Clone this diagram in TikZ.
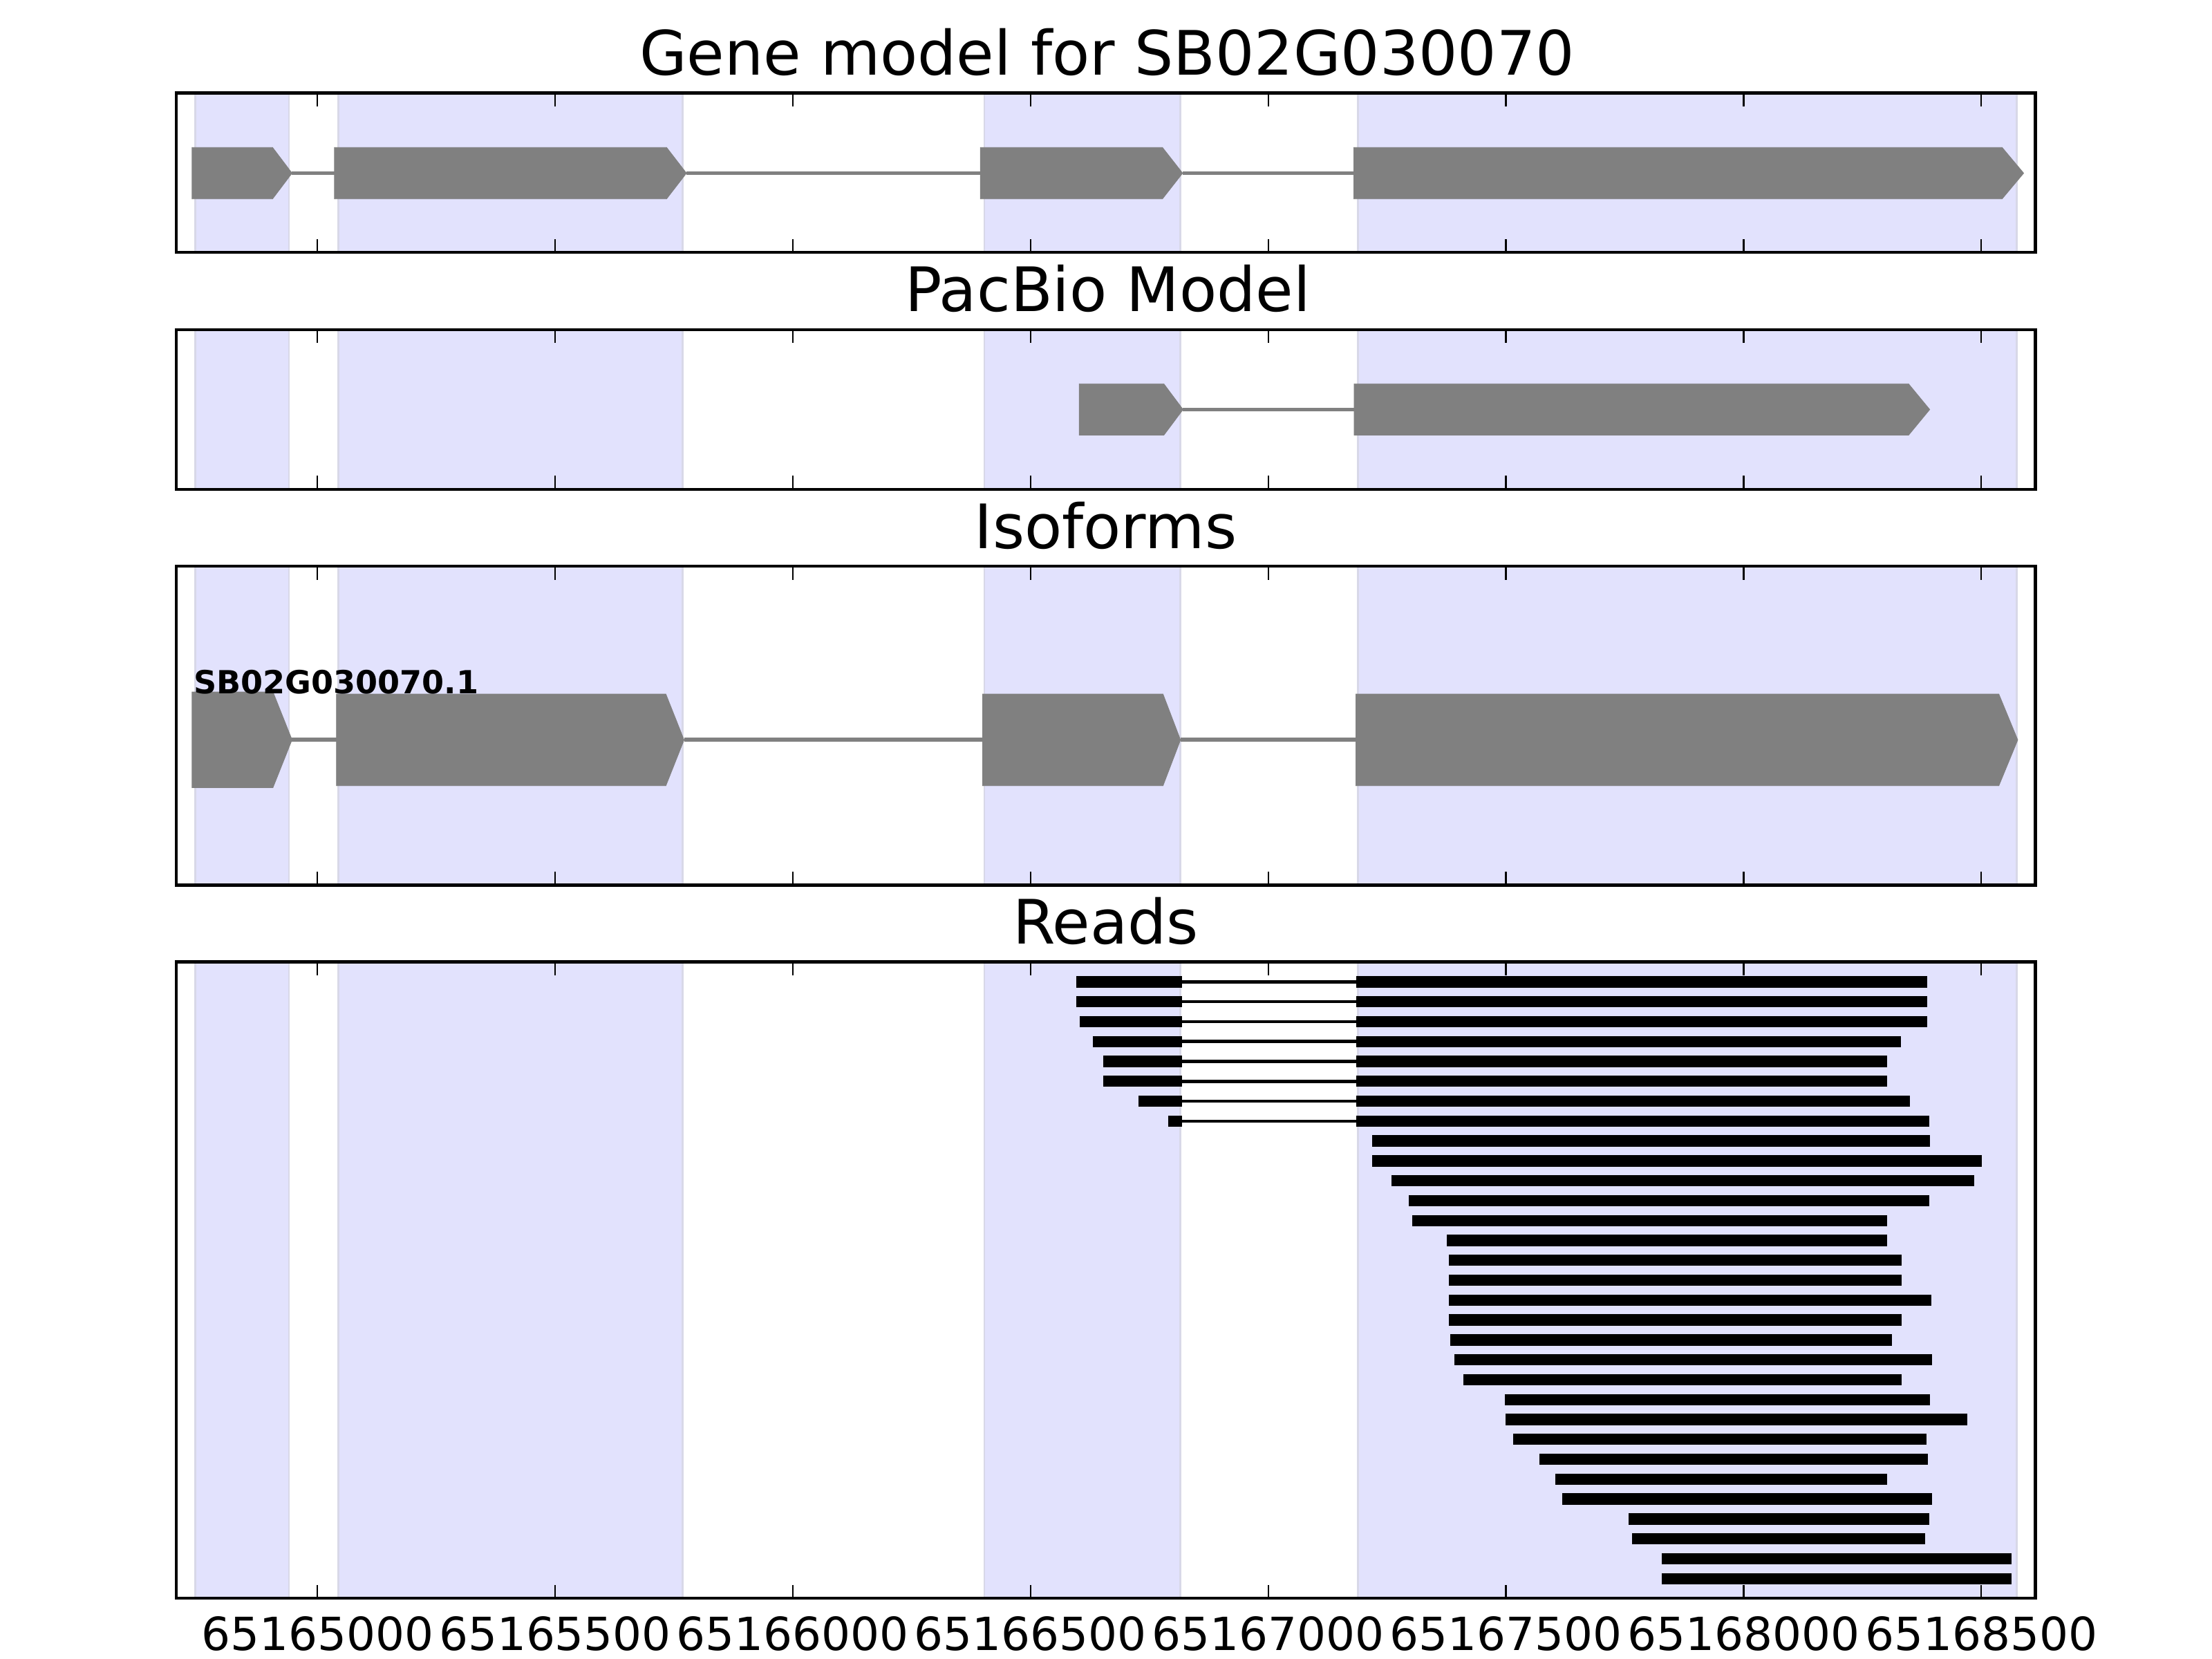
\documentclass[tikz,border=0pt]{standalone}
\usepackage{fontspec}
\setmainfont{DejaVu Sans}
\definecolor{shade}{RGB}{226,226,253}
\definecolor{shadeedge}{RGB}{216,216,232}
\definecolor{exongrey}{RGB}{128,128,128}
\tikzset{
  spanbox/.style={fill=shade, draw=shadeedge, line width=0.012cm},
  axframe/.style={draw=black, line width=0.021cm},
  tickmark/.style={draw=black, line width=0.011cm},
  exonshape/.style={fill=exongrey, draw=exongrey, line width=0.004cm, line join=miter},
  intronline/.style={draw=exongrey, line width=0.026cm},
  readbar/.style={fill=black},
  readintron/.style={draw=black, line width=0.022cm},
  paneltitle/.style={font=\fontsize{12.35}{14}\selectfont, anchor=base, inner sep=0},
  ticklabel/.style={font=\fontsize{9.2}{11}\selectfont, anchor=base, inner sep=0},
  isolabel/.style={font=\bfseries\fontsize{6.42}{7.5}\selectfont, anchor=base west, inner sep=0},
}
% exon arrow: start, box end, tip, top, bottom
\newcommand{\exonpoly}[5]{%
  \path[exonshape] (#1,#4) -- (#2,#4) -- (#3,{(#4+#5)/2}) -- (#2,#5) -- (#1,#5) -- cycle;}
% shaded spans for a panel: top, bottom
\newcommand{\panelback}[2]{%
  \foreach \sa/\sb in {138.4/204.7, 239.9/483.8, 697.8/836.7, 962.5/1429.5}
    {\path[spanbox] (\sa,#1) rectangle (\sb,#2);}}
% ticks and frame for a panel: top, bottom
\newcommand{\panelfront}[2]{%
  \foreach \tx in {225,393.5,562,730.5,899,1067.5,1236,1404.5}
    {\draw[tickmark] (\tx,#1) -- ++(0,9.6);
     \draw[tickmark] (\tx,#2) -- ++(0,-9.6);}
  \draw[axframe] (124.8,#1) rectangle (1442.8,#2);}
\begin{document}
\begin{tikzpicture}[x=0.01cm,y=-0.01cm]
\useasboundingbox (0,0) rectangle (1568,1176);
\fill[white] (0,0) rectangle (1568,1176);

% ---------- Panel 1: gene model ----------
\panelback{65.9}{179.0}
\draw[intronline] (207.0,122.7) -- (237.1,122.7);
\draw[intronline] (486.6,122.7) -- (694.9,122.7);
\draw[intronline] (838.3,122.7) -- (959.7,122.7);
\exonpoly{136.1}{193.2}{207.0}{104.5}{141.0}
\exonpoly{237.1}{472.5}{486.6}{104.5}{141.0}
\exonpoly{694.9}{824.0}{838.3}{104.5}{141.0}
\exonpoly{959.7}{1419.2}{1434.5}{104.5}{141.0}
\panelfront{65.9}{179.0}
\node[paneltitle] (t1) at (784.8,53.1) {Gene model for SB02G030070};

% ---------- Panel 2: PacBio model ----------
\panelback{233.6}{346.8}
\draw[intronline] (838.6,290.3) -- (959.9,290.3);
\exonpoly{765.0}{825.0}{838.6}{272.1}{308.5}
\exonpoly{959.9}{1352.9}{1367.9}{272.1}{308.5}
\panelfront{233.6}{346.8}
\node[paneltitle] (t2) at (785.3,220.8) {PacBio Model};

% ---------- Panel 3: isoforms ----------
\panelback{401.4}{627.4}
\draw[intronline] (207.0,524.3) -- (238.5,524.3);
\draw[intronline] (484.9,524.3) -- (696.6,524.3);
\draw[intronline] (836.8,524.3) -- (961.1,524.3);
\exonpoly{136.1}{193.5}{207.0}{490.5}{558.3}
\exonpoly{238.5}{472.0}{484.9}{492.0}{557.0}
\exonpoly{696.6}{824.4}{836.8}{492.0}{557.0}
\exonpoly{961.1}{1416.9}{1430.3}{492.0}{557.0}
\node[isolabel] (iso1) at (136.5,491.6) {SB02G030070.1};
\panelfront{401.4}{627.4}
\node[paneltitle] (t3) at (783.8,388.6) {Isoforms};

% ---------- Panel 4: reads ----------
\panelback{681.9}{1133.0}
% spliced reads
\foreach \i/\s/\e in {1/762.7/1366.0, 2/762.7/1366.0, 3/765.2/1366.0, 4/774.9/1347.4,
                      5/782.1/1337.6, 6/782.1/1337.6, 7/806.8/1353.7, 8/828.0/1367.4}
{
  \pgfmathsetmacro{\ry}{696.0+(\i-1)*14.1}
  \draw[readintron] (838.0,\ry) -- (961.2,\ry);
  \fill[readbar] (\s,\ry-4.0) rectangle (838.0,\ry+4.0);
  \fill[readbar] (961.2,\ry-4.0) rectangle (\e,\ry+4.0);
}
% unspliced reads
\foreach \i/\s/\e in {9/972.5/1367.9, 10/972.8/1404.7, 11/986.2/1399.3, 12/998.7/1367.4,
                      13/1001.1/1337.5, 14/1025.5/1337.5, 15/1026.9/1347.8, 16/1026.9/1347.8,
                      17/1026.9/1368.9, 18/1027.0/1347.8, 19/1027.8/1341.3, 20/1031.1/1369.4,
                      21/1037.2/1347.8, 22/1066.7/1368.0, 23/1067.2/1394.7, 24/1072.8/1365.7,
                      25/1091.1/1366.6, 26/1102.3/1337.5, 27/1107.5/1369.4, 28/1154.3/1367.5,
                      29/1156.7/1364.7, 30/1177.8/1426.1, 31/1177.8/1426.1}
{
  \pgfmathsetmacro{\ry}{696.0+(\i-1)*14.1}
  \fill[readbar] (\s,\ry-4.0) rectangle (\e,\ry+4.0);
}
\panelfront{681.9}{1133.0}
\node[paneltitle] (t4) at (783.8,669.1) {Reads};

% ---------- x tick labels ----------
\node[ticklabel] (x1) at (225.0,1169.8) {65165000};
\node[ticklabel] (x2) at (393.5,1169.8) {65165500};
\node[ticklabel] (x3) at (562.0,1169.8) {65166000};
\node[ticklabel] (x4) at (730.5,1169.8) {65166500};
\node[ticklabel] (x5) at (899.0,1169.8) {65167000};
\node[ticklabel] (x6) at (1067.5,1169.8) {65167500};
\node[ticklabel] (x7) at (1236.0,1169.8) {65168000};
\node[ticklabel] (x8) at (1404.5,1169.8) {65168500};
\end{tikzpicture}
\end{document}
